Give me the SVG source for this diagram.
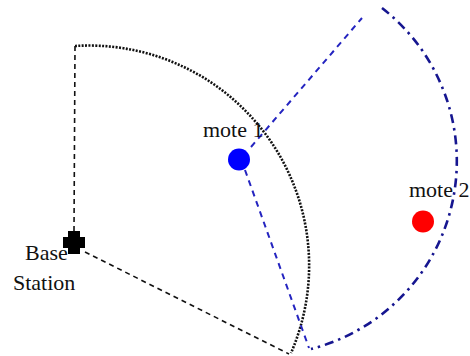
<svg xmlns="http://www.w3.org/2000/svg" width="470" height="356" viewBox="0 0 470 356">
<style>
.lbl{font-family:'Liberation Serif','DejaVu Serif',serif;font-size:22px;fill:#111}
.bdash{fill:none;stroke:#111;stroke-width:1.6;stroke-dasharray:5 4}
.bdot{fill:none;stroke:#111;stroke-width:2.6;stroke-dasharray:2 1.4}
.udash{fill:none;stroke:#2424c0;stroke-width:2;stroke-dasharray:6 5}
.udashdot{fill:none;stroke:#161690;stroke-width:2.6;stroke-dasharray:9 5 2.5 5}
</style>
<rect width="470" height="356" fill="#fff"/>
<g id="connectors">
<path class="bdash" d="M75,46 L74,231"/>
<path class="bdash" d="M85,252 L289,354"/>
<path class="bdot" d="M75,46 A220,220 0 0 1 291,353"/>
<path class="udash" d="M251,147 L362,18"/>
<path class="udash" d="M245,170 L309,348"/>
<path class="udashdot" d="M382,8 A194,194 0 0 1 311,349"/>
</g>
<g id="base-station">
<path d="M68,231 H80 V237 H85 V248 H80 V254 H68 V248 H63 V237 H68 Z" fill="#000"/>
<text class="lbl" x="25" y="260" font-family="Liberation Serif, serif">Base</text>
<text class="lbl" x="13" y="290" font-family="Liberation Serif, serif">Station</text>
</g>
<g id="mote1">
<circle cx="239" cy="159.5" r="11" fill="#0000ff"/>
<text class="lbl" x="203" y="137" font-family="Liberation Serif, serif">mote 1</text>
</g>
<g id="mote2">
<circle cx="423" cy="221.5" r="11" fill="#ff0000"/>
<text class="lbl" x="409" y="197" font-family="Liberation Serif, serif">mote 2</text>
</g>
</svg>
